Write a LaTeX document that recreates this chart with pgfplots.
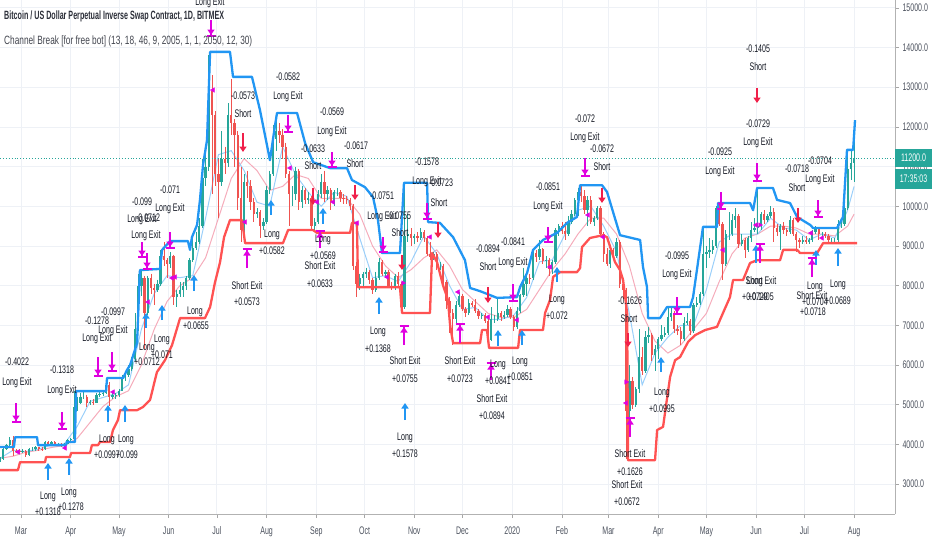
\documentclass[border=0pt]{standalone}
\usepackage{pgfplots}
\pgfplotsset{compat=1.18}
\usepackage{pgfplotstable}
\usepackage{fontspec}
\setmainfont{Liberation Sans}[FakeStretch=0.64]
\usetikzlibrary{arrows.meta}
\definecolor{upc}{HTML}{26A69A}
\definecolor{dnc}{HTML}{EF5350}
\definecolor{chblue}{HTML}{2196F3}
\definecolor{chred}{HTML}{FF5252}
\definecolor{mag}{HTML}{E000E0}
\definecolor{longc}{HTML}{2196F3}
\definecolor{shortc}{HTML}{F0204A}
\definecolor{gridc}{HTML}{EEF1F6}
\definecolor{txt}{HTML}{131722}
\definecolor{axtxt}{HTML}{4C525E}
\definecolor{mablue}{HTML}{90CAF9}
\definecolor{mapink}{HTML}{F4A3B4}
\newcommand{\lblfont}{\fontsize{11}{13}\selectfont}
\tikzset{lbl/.style={font=\lblfont, text=txt, anchor=mid, inner sep=0pt}}
\newcommand{\LL}[3]{\node[lbl] at (axis cs:#1,#2) {#3};}

\pgfplotstableread{
d o h l c
-13 3600 3680 3560 3620
-11 3620 3930 3610 3880
-9 3880 4020 3850 3980
-7 3980 4180 3940 4120
-5 4120 4200 3700 3830
-3 3830 3880 3780 3820
-1 3820 3870 3760 3810
1 3810 3880 3780 3820
3 3820 3860 3680 3720
5 3720 3900 3700 3870
7 3870 3920 3830 3870
9 3870 3950 3840 3920
11 3920 3940 3830 3880
13 3880 3920 3840 3870
15 3870 4090 3860 4060
17 4060 4080 3970 4000
19 4000 4080 3960 4050
21 4050 4080 3960 4000
23 4000 4040 3970 4010
25 4010 4030 3920 3950
27 3950 4040 3930 4020
29 4020 4130 4010 4100
31 4100 4170 4080 4130
33 4130 5340 4120 4950
35 4950 5180 4850 5050
37 5050 5300 5020 5200
39 5200 5340 5150 5200
41 5200 5250 4950 5050
43 5050 5120 5000 5070
45 5070 5130 5000 5050
47 5050 5290 5040 5240
49 5240 5320 5200 5270
51 5270 5350 5230 5300
53 5300 5670 5280 5500
55 5500 5560 4960 5200
57 5200 5290 5150 5240
59 5240 5300 5150 5250
61 5250 5400 5200 5350
63 5350 5750 5340 5700
65 5700 5850 5600 5750
67 5750 6000 5700 5900
69 5900 6200 5850 6150
71 6150 7300 6100 6900
73 6900 8300 6850 8000
75 8000 8400 7750 8200
77 8200 8250 6400 7300
79 7300 8250 7250 8200
81 8200 8300 7800 7950
83 7950 8050 7500 7900
85 7900 8150 7850 8050
87 8050 8900 8000 8750
89 8750 9100 8500 8650
91 8650 8700 8200 8550
93 8550 8850 8450 8750
95 8750 8780 7500 7700
97 7700 7900 7450 7800
99 7800 8100 7700 7900
101 7900 8100 7700 8000
103 8000 8250 7900 8200
105 8200 8700 8150 8650
107 8650 9300 8600 8950
109 8950 9350 8900 9100
111 9100 9700 9050 9500
113 9500 11200 9450 10700
115 10700 11300 10500 11000
117 11000 13800 10900 12900
119 12900 13300 10300 12300
121 12300 12400 10500 10800
123 10800 11200 9700 10600
125 10600 11900 10500 11200
127 11200 11500 10800 11100
129 11100 12600 11000 12300
131 12300 13200 11800 12100
133 12100 12200 11000 11800
135 11800 11900 9900 10200
137 10200 11000 9100 9400
139 9400 10800 9300 10600
141 10600 10900 10200 10500
143 10500 10650 9900 10100
145 10100 10200 9600 9800
147 9800 9950 9700 9850
149 9850 9900 9200 9500
151 9500 9700 9400 9600
153 9600 10500 9550 10400
155 10400 10900 10300 10800
157 10800 12050 10750 11700
159 11700 12300 11400 11900
161 11900 12100 11600 11800
163 11800 11950 11200 11500
165 11500 11600 10700 10800
167 10800 10900 9500 10300
169 10300 10500 10000 10300
171 10300 11000 10150 10900
173 10900 10950 9900 10100
175 10100 10500 9950 10400
177 10400 10450 10050 10150
179 10150 10350 10050 10200
181 10200 10250 9400 9500
183 9500 9700 9350 9600
185 9600 10400 9550 10300
187 10300 10800 10200 10600
189 10600 10900 10100 10300
191 10300 10500 10150 10400
193 10400 10450 9900 10100
195 10100 10400 10000 10350
197 10350 10450 10250 10350
199 10350 10400 10100 10200
201 10200 10300 10050 10180
203 10180 10250 10050 10150
205 10150 10200 9900 10000
207 10000 10050 8400 8500
209 8500 8600 7700 8050
211 8050 8300 7900 8200
213 8200 8350 7950 8300
215 8300 8450 8200 8350
217 8350 8400 8050 8150
219 8150 8200 7800 7900
221 7900 8350 7850 8200
223 8200 8700 8150 8600
225 8600 8650 8250 8300
227 8300 8400 8200 8350
229 8350 8400 7950 8000
231 8000 8100 7900 7950
233 7950 8300 7900 8230
235 8230 8330 7950 8050
237 8050 8100 7300 7450
239 7450 10500 7400 9250
241 9250 9800 9100 9300
243 9300 9450 9000 9200
245 9200 9300 9050 9250
247 9250 9350 9100 9200
249 9200 9450 9150 9350
251 9350 9400 9100 9200
253 9200 9250 8750 8800
255 8800 9100 8650 8720
257 8720 8850 8650 8800
259 8800 8850 8400 8500
261 8500 8600 8400 8500
263 8500 8550 8000 8100
265 8100 8150 7400 7620
267 7620 7700 6800 7300
269 7300 7400 6500 7150
271 7150 7600 7050 7500
273 7500 7850 7450 7750
275 7750 7800 7350 7400
277 7400 7450 7200 7320
279 7320 7650 7250 7550
281 7550 7600 7450 7520
283 7520 7650 7300 7350
285 7350 7400 7150 7230
287 7230 7300 7150 7250
289 7250 7300 7050 7100
291 7100 7150 6450 6640
293 6640 7450 6600 7150
295 7150 7250 7050 7150
297 7150 7650 7100 7320
299 7320 7350 7100 7200
301 7200 7350 7150 7250
303 7250 7500 7200 7400
305 7400 7450 7150 7200
307 7200 7250 6850 6960
309 6960 7450 6900 7350
311 7350 7800 7300 7760
313 7760 8450 7700 8050
315 8050 8250 7750 8200
317 8200 8300 8050 8180
319 8180 8900 8150 8820
321 8820 8900 8600 8720
323 8720 9150 8650 8920
325 8920 8950 8550 8630
327 8630 8750 8450 8650
329 8650 8700 8250 8430
331 8430 8650 8300 8600
333 8600 9450 8550 9400
335 9400 9550 9250 9500
337 9500 9600 9300 9370
339 9370 9600 9150 9300
341 9300 9750 9250 9600
343 9600 9900 9550 9800
345 9800 10200 9750 10150
347 10150 10450 9750 10350
349 10350 10500 10100 10250
351 10250 10400 9800 9900
353 9900 10250 9500 10150
355 10150 10250 9550 9600
357 9600 9750 9500 9700
359 9700 10000 9650 9950
361 9950 10000 9250 9300
363 9300 9350 8600 8800
365 8800 8950 8500 8550
367 8550 8950 8450 8900
369 8900 8950 8700 8750
371 8750 9200 8700 9100
373 9100 9150 7950 8050
375 8050 8200 7650 7900
377 7900 7950 3620 4850
379 4850 6000 4500 5600
381 5600 5700 4900 5000
383 5000 5450 4950 5400
385 5400 6900 5300 6200
387 6200 6450 5750 5850
389 5850 6850 5800 6700
391 6700 6950 6550 6750
393 6750 6800 6100 6250
395 6250 6500 5850 6400
397 6400 6700 6150 6650
399 6650 7000 6600 6750
401 6750 6950 6700 6800
403 6800 7450 6750 7200
405 7200 7450 7100 7300
407 7300 7350 6800 6900
409 6900 7000 6750 6850
411 6850 6950 6500 6650
413 6650 7200 6600 7050
415 7050 7300 7000 7100
417 7100 7150 6750 6850
419 6850 7550 6800 7500
421 7500 7700 7450 7550
423 7550 7850 7500 7780
425 7780 9450 7750 8800
427 8800 9000 8450 8850
429 8850 9200 8700 8900
431 8900 9150 8800 9000
433 9000 10000 8950 9950
435 9950 10050 9500 9550
437 9550 9600 8150 8550
439 8550 9400 8500 9300
441 9300 9850 9150 9300
443 9300 9800 9250 9650
445 9650 9950 9450 9750
447 9750 9800 8950 9050
449 9050 9300 9000 9150
451 9150 9200 8700 8900
453 8900 9250 8850 9200
455 9200 9600 9100 9400
457 9400 9700 9350 9450
459 9450 10400 9300 9500
461 9500 9850 9400 9800
463 9800 9900 9550 9650
465 9650 9800 9600 9750
467 9750 10000 9700 9850
469 9850 9950 9100 9450
471 9450 9550 9250 9350
473 9350 9550 8900 9500
475 9500 9600 9300 9400
477 9400 9450 9250 9350
479 9350 9750 9300 9650
481 9650 9700 9250 9300
483 9300 9350 8850 9150
485 9150 9200 8950 9100
487 9100 9250 9050 9150
489 9150 9250 9050 9100
491 9100 9200 9050 9150
493 9150 9400 9100 9350
495 9350 9500 9300 9450
497 9450 9450 9150 9300
499 9300 9350 9200 9300
501 9300 9350 9200 9250
503 9250 9300 9050 9150
505 9150 9200 9100 9150
507 9150 9200 9100 9150
509 9150 9650 9100 9550
511 9550 9650 9450 9550
513 9550 10050 9500 9950
515 9950 11250 9900 10950
517 10950 11450 10650 11100
519 11100 12150 10600 11200
}\candles

\begin{document}
\begin{tikzpicture}
\useasboundingbox (0,0) rectangle (932pt,550pt);
\begin{axis}[
  at={(0pt,36pt)}, anchor=south west, scale only axis,
  width=895pt, height=514pt,
  xmin=-13.08, xmax=544.5, ymin=2244, ymax=15197,
  axis x line*=bottom, axis y line*=right,
  axis line style={draw=black!30, line width=0.8pt},
  tick align=outside, major tick length=4pt,
  tick style={draw=black!35, line width=0.6pt},
  xtick={0,31,61,92,122,153,184,214,245,275,306,337,366,397,427,458,488,519},
  xticklabels={Mar,Apr,May,Jun,Jul,Aug,Sep,Oct,Nov,Dec,2020,Feb,Mar,Apr,May,Jun,Jul,Aug},
  ytick={3000,4000,5000,6000,7000,8000,9000,10000,11000,12000,13000,14000,15000},
  scaled y ticks=false,
  yticklabel pos=right,
  /pgf/number format/assume math mode=true,
  yticklabel style={/pgf/number format/fixed, /pgf/number format/fixed zerofill, /pgf/number format/precision=1, /pgf/number format/1000 sep={}},
  ticklabel style={font=\fontsize{11}{13}\selectfont, text=axtxt},
  xticklabel style={yshift=-5pt},
  grid=major, grid style={draw=gridc, line width=0.7pt},
]
% moving averages
\addplot[mapink, line width=1pt, opacity=0.9] coordinates {
(-13,3650) (-5,3700) (3,3800) (11,3850) (19,3920) (27,3970) (35,4150) (43,4550) (51,4950) (59,5200) (67,5350) (75,6000) (83,6900) (91,7600) (99,8000) (107,8200) (115,8700) (123,9700) (131,10700) (139,11200) (147,10900) (155,10400) (163,10500) (171,10800) (179,10700) (187,10200) (195,10200) (203,10200) (211,9800) (219,9000) (227,8500) (235,8200) (243,8400) (251,8700) (259,8900) (267,8500) (275,7900) (283,7600) (291,7300) (299,7200) (307,7200) (315,7400) (323,7900) (331,8400) (339,8800) (347,9300) (355,9700) (363,9700) (371,9300) (379,8500) (387,7300) (395,6600) (403,6300) (411,6500) (419,6900) (427,7300) (435,8100) (443,8800) (451,9200) (459,9300) (467,9500) (475,9500) (483,9450) (491,9300) (499,9300) (507,9250) (515,9500) (519,9800)};
\addplot[mablue, line width=1pt, opacity=0.9] coordinates {
(-13,3650) (-5,3850) (3,3820) (11,3880) (19,3990) (27,4010) (35,4450) (43,5080) (51,5180) (59,5280) (67,5500) (75,6900) (83,7800) (91,8250) (99,8200) (107,8250) (115,9700) (123,11300) (131,11400) (139,10900) (147,10100) (155,10000) (163,11500) (171,10800) (179,10350) (187,10000) (195,10350) (203,10250) (211,9200) (219,8200) (227,8250) (235,8100) (243,8600) (251,9250) (259,8800) (267,8000) (275,7400) (283,7450) (291,7150) (299,7150) (307,7250) (315,7700) (323,8600) (331,8650) (339,9300) (347,9900) (355,10000) (363,9500) (371,8850) (379,7300) (387,5500) (395,6300) (403,6700) (411,7000) (419,7000) (427,7900) (435,9100) (443,9300) (451,9300) (459,9300) (467,9700) (475,9450) (483,9400) (491,9150) (499,9300) (507,9200) (515,9900) (519,10500)};
% candle wicks
\addplot[draw=none, no markers, forget plot,
  error bars/.cd, y dir=minus, y explicit, error mark=none,
  error bar style={draw=upc, line width=0.7pt}]
  table[x=d, y=h, y error minus expr={(\thisrow{c}>=\thisrow{o})*(\thisrow{h}-\thisrow{l})}] {\candles};
\addplot[draw=none, no markers, forget plot,
  error bars/.cd, y dir=minus, y explicit, error mark=none,
  error bar style={draw=dnc, line width=0.7pt}]
  table[x=d, y=h, y error minus expr={(\thisrow{c}<\thisrow{o})*(\thisrow{h}-\thisrow{l})}] {\candles};
% candle bodies
\addplot[draw=none, no markers, forget plot,
  error bars/.cd, y dir=minus, y explicit, error mark=none,
  error bar style={draw=upc, line width=2.3pt}]
  table[x=d, y=c, y error minus expr={(\thisrow{c}>=\thisrow{o})*(\thisrow{c}-\thisrow{o})}] {\candles};
\addplot[draw=none, no markers, forget plot,
  error bars/.cd, y dir=minus, y explicit, error mark=none,
  error bar style={draw=dnc, line width=2.3pt}]
  table[x=d, y=o, y error minus expr={(\thisrow{c}<\thisrow{o})*(\thisrow{o}-\thisrow{c})}] {\candles};
% upper channel
\addplot[chblue, line width=2.3pt, line join=round] coordinates {
(-13.1,3930) (-4.4,3930) (-3.7,4180) (10,4180) (10.6,3980) (28,3980) (28.7,4060) (33.6,4060) (34.3,5340) (53,5340) (53.6,5670) (63.6,5670) (66,5870) (68,6000) (72.3,6550) (74.1,8390) (86.6,8420) (87.9,8900) (92.8,9120) (104,9120) (105.3,8900) (106.5,9220) (109.7,9530) (111.5,10160) (113.4,11040) (115.9,11670) (117.8,13890) (130.2,13890) (132.1,13260) (143.9,13260) (148.9,12420) (155.1,11160) (158.3,12050) (159.5,12350) (172,12350) (177,11590) (182,11110) (192.5,10960) (203.1,10960) (206.2,10660) (214.3,10480) (219.3,10230) (222.4,9650) (224.9,8820) (236.1,8820) (238.6,10590) (253,10590) (253.6,9600) (261,9580) (269.2,9220) (276.6,8640) (279.8,7940) (286,7860) (296.6,7690) (309,7710) (310.9,7960) (315.3,8320) (319,8900) (325.2,9150) (334,9330) (340.2,9580) (346.4,9730) (348.3,10530) (362,10530) (365.1,10360) (373.2,9270) (385.7,9150) (387.5,8470) (390,7960) (390.7,7180) (398.1,7180) (402.5,7460) (416.8,7460) (418.7,7710) (424.9,9480) (433.6,9480) (434.3,10080) (454.2,10080) (456.1,9900) (458.6,10460) (468.5,10460) (471,10160) (479.1,10080) (483.5,9730) (491.6,9530) (493.5,9450) (508.4,9450) (512.1,9730) (514.6,11420) (518.4,11420) (519.6,12170)};
% lower channel
\addplot[chred, line width=2.3pt, line join=round] coordinates {
(-13.1,3350) (-1.9,3350) (-0.6,3550) (15,3550) (15.6,3680) (30.5,3680) (31.2,3780) (43,3780) (44.2,3980) (48,3980) (49.2,4060) (55.5,4060) (57.3,4360) (60.4,4610) (61.7,4860) (72.3,4860) (76,4940) (80.4,5120) (84.7,5820) (89.7,6120) (94.1,6500) (99.1,7180) (114.6,7180) (117.8,7460) (120.9,8090) (124,8590) (126.5,9220) (130.2,9650) (137.7,9650) (139.6,9070) (163.2,9070) (166.4,9400) (181.9,9400) (184.4,9330) (205,9330) (206.2,9580) (209.3,9580) (210,7960) (236.1,7960) (237.4,7310) (254.8,7310) (256.1,8820) (259.2,8590) (262.9,8010) (266,7640) (267.3,7010) (269.2,6550) (286,6550) (287.2,6880) (290.3,6880) (291.6,6430) (309.7,6430) (310.9,6880) (325.2,6880) (326.5,7310) (329.6,7640) (331.5,8220) (335.8,8340) (346.4,8340) (348.3,8440) (349.5,8970) (354.5,9200) (362.6,9270) (365.1,9220) (370.1,8590) (373.2,8390) (375.1,8140) (377.6,7310) (378.2,3600) (395,3600) (396.3,4360) (400,4440) (401.2,4790) (404.4,5700) (407.5,6120) (410.6,6200) (415.6,6580) (419.9,6750) (426.2,6880) (433.6,6960) (436.8,7260) (441.7,7710) (443.6,8140) (449.8,8140) (454.2,8570) (458.6,8640) (472.9,8640) (474.8,8900) (483.5,8900) (485.4,8820) (496,8820) (499.7,9070) (520.9,9070)};
% last price line
\addplot[upc, dotted, line width=0.9pt] coordinates {(-13.08,11200) (544.5,11200)};
\end{axis}

% ---------- annotation layer (image pixel coordinates) ----------
\begin{axis}[
  at={(0pt,36pt)}, anchor=south west, scale only axis,
  width=895pt, height=514pt,
  xmin=0, xmax=895, ymin=0, ymax=514, y dir=reverse,
  hide axis, clip=false]
% small magenta exit triangles
\addplot[only marks, mark=triangle*, mark size=2.6pt, mark options={rotate=90, draw=mag, fill=mag}] table {
x y
18 452
65 448
113 392
148 302
172 278
213 90
245 222
175 277
290 168
317 202
333 202
357 223
387 277
430 237
458 292
488 317
517 320
550 267
588 215
603 237
626 403
723 250
756 225
811 233
822 238
};
\addplot[only marks, mark=triangle*, mark size=2.6pt, mark options={rotate=-90, draw=mag, fill=mag}] table {
x y
403 283
626 382
760 225
};
% Long entries
\addplot[longc, line width=1.7pt, -{Triangle[width=7pt,length=5.5pt]}, quiver={u=\thisrow{u}, v=\thisrow{v}}] table {
x y u v
48 480 0 -17
69 475 0 -17
108 422 0 -17
125 422 0 -17
146 328 0 -15
162 320 0 -15
194 291 0 -16
271 215 0 -15
323 224 0 -16
379 314 0 -17
405 420 0 -17
498 346 0 -16
522 345 0 -15
557 282 0 -15
661 372 0 -15
756 263 0 -18
816 265 0 -15
838 266 0 -18
};
% Short entries
\addplot[shortc, line width=1.7pt, -{Triangle[width=7pt,length=5.5pt]}, quiver={u=\thisrow{u}, v=\thisrow{v}}] table {
x y u v
243 133 0 19
313 188 0 17
355 185 0 15
402 255 0 15
438 222 0 16
488 287 0 16
602 188 0 15
628 333 0 14
757 88 0 15
798 208 0 15
};
% Long exits
\addplot[mag, line width=1.7pt, -{Triangle[width=7pt,length=5.5pt] Bar[width=9pt,line width=2pt]}, quiver={u=\thisrow{u}, v=\thisrow{v}}] table {
x y u v
16 403 0 20
62 412 0 18
98 357 0 20
112 352 0 20
142 242 0 16
147 253 0 17
170 232 0 17
211 20 0 17
288 115 0 18
332 152 0 16
383 237 0 16
427 203 0 17
513 284 0 18
548 227 0 16
585 158 0 19
677 297 0 18
721 192 0 18
757 163 0 19
818 200 0 18
};
% Short exits
\addplot[mag, line width=1.7pt, -{Triangle[width=7pt,length=5.5pt] Bar[width=9pt,line width=2pt]}, quiver={u=\thisrow{u}, v=\thisrow{v}}] table {
x y u v
247 268 0 -20
320 248 0 -18
404 345 0 -20
460 343 0 -20
491 380 0 -18
630 437 0 -20
760 263 0 -20
812 277 0 -20
};
% Long Exit labels
\LL{17}{363}{-0.4022}\LL{17}{383}{Long Exit}
\LL{62}{371}{-0.1318}\LL{62}{391}{Long Exit}
\LL{97}{322}{-0.1278}\LL{97}{339}{Long Exit}
\LL{113}{313}{-0.0997}\LL{113}{331}{Long Exit}
\LL{142}{203}{-0.099}\LL{142}{220}{Long Exit}
\LL{148}{219}{-0.0712}\LL{146}{236}{Long Exit}
\LL{170}{191}{-0.071}\LL{170}{209}{Long Exit}
\LL{210}{3}{Long Exit}
\LL{288}{78}{-0.0582}\LL{288}{97}{Long Exit}
\LL{332}{113}{-0.0569}\LL{332}{132}{Long Exit}
\LL{382}{197}{-0.0751}\LL{382}{217}{Long Exit}
\LL{427}{163}{-0.1578}\LL{427}{182}{Long Exit}
\LL{513}{243}{-0.0841}\LL{513}{263}{Long Exit}
\LL{548}{188}{-0.0851}\LL{548}{207}{Long Exit}
\LL{585}{120}{-0.072}\LL{585}{138}{Long Exit}
\LL{677}{257}{-0.0995}\LL{677}{275}{Long Exit}
\LL{720}{153}{-0.0925}\LL{720}{172}{Long Exit}
\LL{758}{125}{-0.0729}\LL{758}{143}{Long Exit}
\LL{820}{162}{-0.0704}\LL{820}{180}{Long Exit}
% Short labels
\LL{243}{97}{-0.0573}\LL{243}{115}{Short}
\LL{313}{150}{-0.0633}\LL{313}{167}{Short}
\LL{356}{147}{-0.0617}\LL{355}{165}{Short}
\LL{399}{217}{-0.0755}\LL{400}{234}{Short}
\LL{441}{184}{-0.0723}\LL{439}{204}{Short}
\LL{488}{250}{-0.0894}\LL{488}{268}{Short}
\LL{602}{150}{-0.0672}\LL{602}{168}{Short}
\LL{630}{302}{-0.1626}\LL{629}{320}{Short}
\LL{758}{50}{-0.1405}\LL{758}{68}{Short}
\LL{797}{170}{-0.0718}\LL{797}{189}{Short}
% Long labels
\LL{48}{497}{Long}\LL{48}{513}{+0.1318}
\LL{69}{493}{Long}\LL{71}{508}{+0.1278}
\LL{107}{440}{Long}\LL{107}{456}{+0.0997}
\LL{126}{440}{Long}\LL{127}{456}{+0.099}
\LL{147}{348}{Long}\LL{147}{363}{+0.0712}
\LL{162}{340}{Long}\LL{162}{356}{+0.071}
\LL{195}{312}{Long}\LL{196}{327}{+0.0655}
\LL{272}{235}{Long}\LL{272}{252}{+0.0582}
\LL{323}{240}{Long}\LL{323}{257}{+0.0569}
\LL{378}{332}{Long}\LL{378}{350}{+0.1368}
\LL{405}{438}{Long}\LL{405}{455}{+0.1578}
\LL{498}{365}{Long}\LL{498}{382}{+0.0841}
\LL{520}{362}{Long}\LL{520}{378}{+0.0851}
\LL{557}{300}{Long}\LL{557}{317}{+0.072}
\LL{662}{393}{Long}\LL{662}{410}{+0.0995}
\LL{755}{282}{Long}\LL{755}{298}{+0.0729}
\LL{815}{287}{Long}\LL{815}{303}{+0.0704}
\LL{838}{285}{Long}\LL{838}{302}{+0.0689}
% Short Exit labels
\LL{247}{287}{Short Exit}\LL{247}{303}{+0.0573}
\LL{320}{267}{Short Exit}\LL{320}{285}{+0.0633}
\LL{405}{362}{Short Exit}\LL{405}{380}{+0.0755}
\LL{460}{362}{Short Exit}\LL{460}{380}{+0.0723}
\LL{492}{400}{Short Exit}\LL{492}{417}{+0.0894}
\LL{630}{455}{Short Exit}\LL{630}{473}{+0.1626}
\LL{627}{486}{Short Exit}\LL{627}{503}{+0.0672}
\LL{761}{282}{Short Exit}\LL{761}{298}{+0.1405}
\LL{812}{297}{Short Exit}\LL{813}{313}{+0.0718}
% titles
\node[anchor=west, inner sep=0pt, font=\fontsize{12}{14}\selectfont\bfseries, text=txt!90] at (axis cs:4,16) {\scalebox{0.93}[1]{Bitcoin / US Dollar Perpetual Inverse Swap Contract, 1D, BITMEX}};
\node[anchor=west, inner sep=0pt, font=\fontsize{12}{14}\selectfont, text=txt!80] at (axis cs:4,41) {\scalebox{1.08}[1]{Channel Break [for free bot] (13, 18, 46, 9, 2005, 1, 1, 2050, 12, 30)}};
% price boxes
\node[fill=upc, text=white, inner sep=0pt, minimum width=37pt, minimum height=18pt, font=\fontsize{11}{13}\selectfont] at (axis cs:913.5,158) {11200.0};
\node[fill=upc, text=white, inner sep=0pt, minimum width=37pt, minimum height=20pt, font=\fontsize{11}{13}\selectfont] at (axis cs:913.5,179) {17:35:03};
\end{axis}
\end{tikzpicture}
\end{document}
